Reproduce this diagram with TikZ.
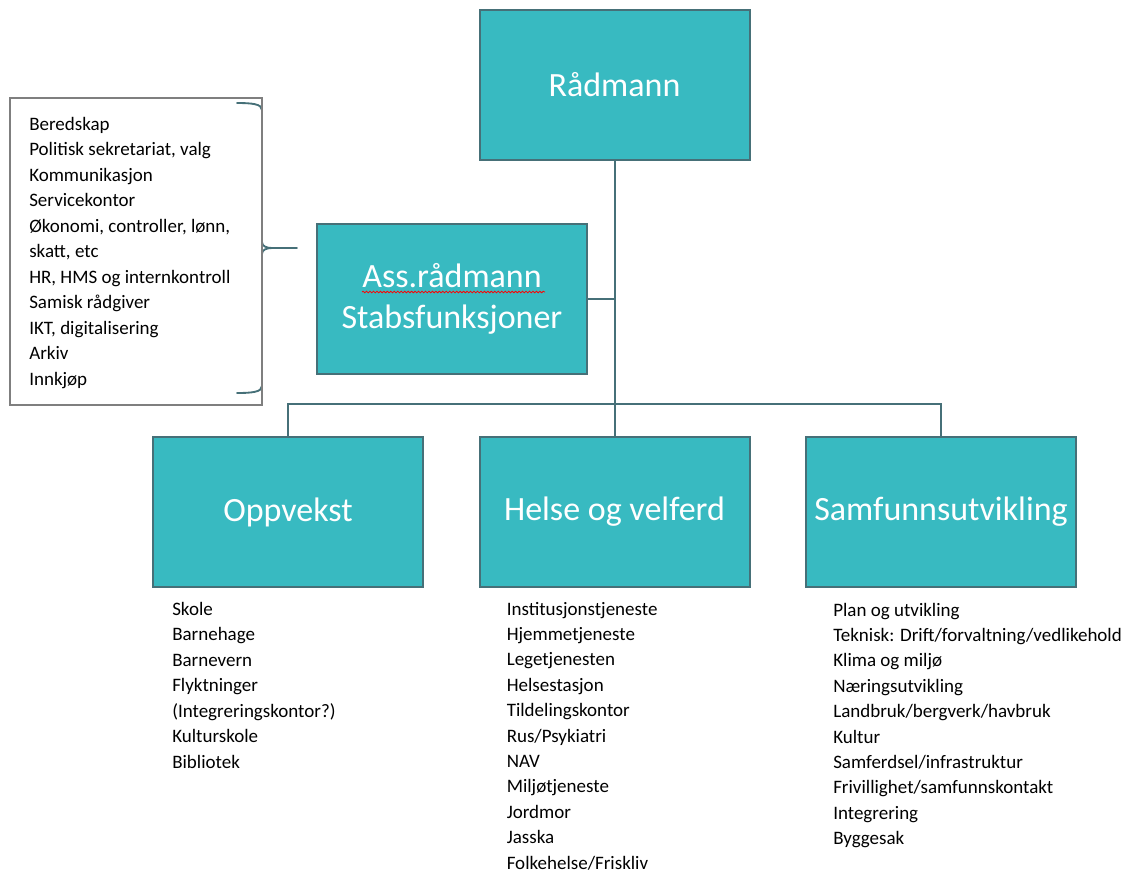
\documentclass[tikz,border=0pt]{standalone}
\usepackage{fontspec}
\setmainfont{Carlito}
\usetikzlibrary{positioning, calc, decorations.pathmorphing}
\definecolor{boksfyll}{HTML}{38BAC1}
\definecolor{boksramme}{HTML}{467078}
\definecolor{listeramme}{HTML}{7F7F7F}

\begin{document}
\begin{tikzpicture}[x=0.75pt, y=-0.75pt,
        enhet/.style={draw=boksramme, line width=1.5pt, fill=boksfyll, text=white, minimum width=202.5pt,
            minimum height=112.5pt, inner sep=0pt, align=center, font=\fontsize{25.5}{30.75}\selectfont},
        linje/.style={draw=boksramme, line width=1.5pt},
        klamme/.style={draw=boksramme, line width=1.4pt, line cap=round},
        punkt/.style={anchor=base west, inner sep=0pt, font=\fontsize{14.25}{19}\selectfont}]
        \useasboundingbox (0,0) rectangle (1133,869);
        \node[enhet] (raad) at (614.5,85) {Rådmann};
        \node[enhet] (stab) at (452,299) {Ass.rådmann\\Stabsfunksjoner};
        \node[enhet] (opp) at (288,512) {Oppvekst};
        \node[enhet] (helse) at (614.5,512) {Helse og velferd};
        \node[enhet] (samf) at (941,512) {Samfunnsutvikling};
        \coordinate (buss) at (614.5,404);
        \path[linje] (raad) -- (buss)
        (stab.east) -- (stab.east -| raad)
        (opp.north) |- (buss) -| (samf.north)
        (buss) -- (helse.north);
        % klamme mot stab
        \coordinate (klammetupp) at (297,248);
        \draw[klamme] (237,103) .. controls (252,103) and (262,104) .. (262,110) -- (262,242)
        .. controls (262,246) and (266,248) .. (272,248) -- (klammetupp);
        \draw[klamme] (272,248) .. controls (266,248) and (262,250) .. (262,254) -- (262,386)
        .. controls (262,392) and (252,393) .. (237,393);
        \node[draw=listeramme, line width=1.5pt, minimum width=189pt, minimum height=230.25pt, inner sep=0pt] (stabliste) at (136,251.5) {};
        \draw[red, line width=0.6pt, decorate, decoration={snake, amplitude=0.6pt, segment length=2.6pt}] (362,292) -- (545,292);
        % lister
        \foreach \t [count=\i] in {Beredskap, {Politisk sekretariat, valg}, Kommunikasjon, Servicekontor,
            {Økonomi, controller, lønn,}, {skatt, etc}, {HR, HMS og internkontroll}, Samisk rådgiver,
            {IKT, digitalisering}, Arkiv, Innkjøp}
        \node[punkt] (stab-\i) at ({29},{130.5+25.45*(\i-1)}) {\t};
        \foreach \t [count=\i] in {Skole, Barnehage, Barnevern, Flyktninger, (Integreringskontor?), Kulturskole, Bibliotek}
        \node[punkt] (opp-\i) at ({172},{615+25.5*(\i-1)}) {\t};
        \foreach \t [count=\i] in {Institusjonstjeneste, Hjemmetjeneste, Legetjenesten, Helsestasjon, Tildelingskontor,
            Rus/Psykiatri, NAV, Miljøtjeneste, Jordmor, Jasska, Folkehelse/Friskliv}
        \node[punkt] (helse-\i) at ({506.5},{615+25.4*(\i-1)}) {\t};
        \foreach \t [count=\i] in {Plan og utvikling, Teknisk: Drift/forvaltning/vedlikehold, Klima og miljø, Næringsutvikling,
            Landbruk/bergverk/havbruk, Kultur, Samferdsel/infrastruktur, Frivillighet/samfunnskontakt, Integrering, Byggesak}
        \node[punkt] (samf-\i) at ({833},{616+25.4*(\i-1)}) {\t};
    \end{tikzpicture}
\end{document}
